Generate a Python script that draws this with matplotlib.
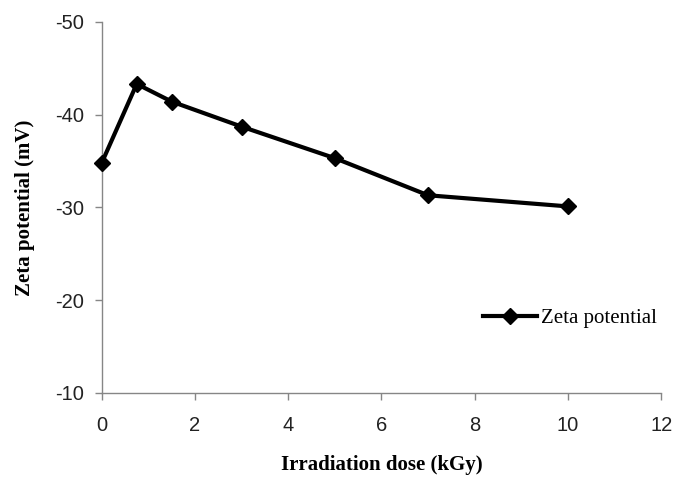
import matplotlib.pyplot as plt

plt.rcParams['axes.unicode_minus'] = False

dose = [0, 0.75, 1.5, 3, 5, 7, 10]
zeta = [-34.8, -43.3, -41.4, -38.7, -35.3, -31.3, -30.1]
xticks = [0, 2, 4, 6, 8, 10, 12]
yticks = [-10, -20, -30, -40, -50]

fig = plt.figure(figsize=(6.83, 4.96), dpi=100)
ax = fig.add_axes([0.149, 0.208, 0.819, 0.748])

ax.plot(dose, zeta, color='black', linewidth=3, marker='D', markersize=8,
        label='Zeta potential', clip_on=False, zorder=5)

ax.set_xlim(0, 12)
ax.set_ylim(-10, -50)
ax.set_xticks(xticks)
ax.set_yticks(yticks)

for s in ['top', 'right']:
    ax.spines[s].set_visible(False)
for s in ['left', 'bottom']:
    ax.spines[s].set_color('#868686')
    ax.spines[s].set_linewidth(1)
ax.tick_params(axis='both', colors='#868686', length=5, width=1,
               labelcolor='#222222', labelsize=14.5)
for lab in ax.get_xticklabels() + ax.get_yticklabels():
    lab.set_family('Liberation Sans')
ax.tick_params(axis='x', pad=12)
ax.tick_params(axis='y', pad=8)

ax.set_xlabel('Irradiation dose (kGy)', family='Liberation Serif',
              fontweight='bold', fontsize=15, labelpad=14)
ax.set_ylabel('Zeta potential (mV)', family='Liberation Serif',
              fontweight='bold', fontsize=15, labelpad=14)

ax.legend(loc='center left', bbox_to_anchor=(0.648, 0.20), frameon=False,
          prop={'family': 'Liberation Serif', 'size': 15},
          handlelength=2.6, handletextpad=0.2)

fig.savefig('out.png', dpi=100)
